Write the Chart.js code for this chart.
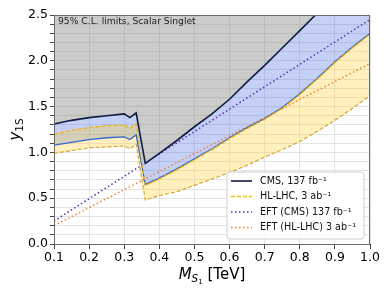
<!DOCTYPE html>
<html>
<head>
<meta charset="utf-8">
<script src="https://cdn.jsdelivr.net/npm/chart.js@4/dist/chart.umd.min.js"></script>
<style>
  body { margin: 0; background: #fff; }
  #wrap { width: 390px; height: 293px; }
</style>
</head>
<body>
<div id="wrap"><canvas id="limitChart"></canvas></div>
<script>
// kütle noktaları (TeV) - tüm bant eğrileri aynı noktaları kullanıyor
const massPts = [0.1, 0.15, 0.2, 0.25, 0.3, 0.316, 0.334, 0.36, 0.4, 0.45, 0.5, 0.55, 0.6, 0.65, 0.7, 0.75, 0.8, 0.85, 0.9, 0.95, 1.0];

// CMS 137 fb^-1 gözlenen limit (üst sınır)
const cmsObs = [1.31, 1.35, 1.38, 1.40, 1.42, 1.38, 1.43, 0.88, 0.99, 1.13, 1.28, 1.42, 1.58, 1.77, 1.95, 2.14, 2.33, 2.52, 2.72, 2.93, 3.15];
// CMS bandının alt çizgisi
const cmsLow = [1.08, 1.11, 1.14, 1.16, 1.17, 1.14, 1.19, 0.65, 0.72, 0.82, 0.93, 1.04, 1.16, 1.27, 1.37, 1.49, 1.64, 1.81, 1.99, 2.15, 2.30];
// HL-LHC 3 ab^-1 bandı
const hlUp = [1.20, 1.24, 1.27, 1.29, 1.30, 1.26, 1.31, 0.64, 0.71, 0.81, 0.92, 1.03, 1.15, 1.26, 1.36, 1.48, 1.63, 1.80, 1.98, 2.14, 2.29];
const hlLow = [0.99, 1.02, 1.05, 1.06, 1.07, 1.04, 1.09, 0.48, 0.53, 0.57, 0.64, 0.71, 0.78, 0.86, 0.95, 1.03, 1.12, 1.23, 1.35, 1.48, 1.62];

// EFT eğrileri
const eftMass = [0.1, 1.0];
const eftCms = [0.25, 2.45];
const eftHl = [0.20, 1.97];

const legendLabels = ['CMS, 137 fb\u207B\u00B9', 'HL-LHC, 3 ab\u207B\u00B9', 'EFT (CMS) 137 fb\u207B\u00B9', 'EFT (HL-LHC) 3 ab\u207B\u00B9'];
const legendIdx = [0, 1, 4, 5];

const FONT = "'DejaVu Sans', sans-serif";

function pts(xs, ys) {
    return xs.map((x, i) => ({ x: x, y: ys[i] }));
}

// çerçeve, eksen başlıkları, not ve lejant
const decorPlugin = {
    id: 'decor',
    afterDraw(chart) {
        const ctx = chart.ctx;
        const a = chart.chartArea;
        ctx.save();

        // çerçeve
        ctx.strokeStyle = '#6b6b6b';
        ctx.lineWidth = 1;
        ctx.strokeRect(a.left + 0.5, a.top + 0.5, a.right - a.left - 1, a.bottom - a.top);

        // not
        ctx.fillStyle = '#222';
        ctx.font = '9.2px ' + FONT;
        ctx.textBaseline = 'alphabetic';
        ctx.textAlign = 'left';
        ctx.fillText('95% C.L. limits, Scalar Singlet', a.left + 4, a.top + 8.5);

        // x başlığı: M_{S_1} [TeV]
        const parts = [
            { t: 'M', f: 'italic 15px ' + FONT, dy: 0 },
            { t: 'S', f: 'italic 10.5px ' + FONT, dy: 3 },
            { t: '1', f: '7px ' + FONT, dy: 5 },
            { t: ' [TeV]', f: '15px ' + FONT, dy: 0 }
        ];
        let total = 0;
        parts.forEach(p => { ctx.font = p.f; p.w = ctx.measureText(p.t).width; total += p.w; });
        let x = (a.left + a.right) / 2 - total / 2;
        ctx.fillStyle = '#000';
        parts.forEach(p => { ctx.font = p.f; ctx.fillText(p.t, x, 279 + p.dy); x += p.w; });

        // y başlığı: y_{1S}
        ctx.save();
        ctx.translate(20, (a.top + a.bottom) / 2);
        ctx.rotate(-Math.PI / 2);
        const yp = [
            { t: 'y', f: 'italic 15px ' + FONT, dy: 0 },
            { t: '1S', f: '10.5px ' + FONT, dy: 3 }
        ];
        total = 0;
        yp.forEach(p => { ctx.font = p.f; p.w = ctx.measureText(p.t).width; total += p.w; });
        x = -total / 2;
        yp.forEach(p => { ctx.font = p.f; ctx.fillText(p.t, x, p.dy); x += p.w; });
        ctx.restore();

        // lejant (grafik alanının içinde, sağ altta)
        const bx = a.right - 143, by = a.bottom - 72, bw = 137, bh = 67;
        ctx.beginPath();
        ctx.roundRect(bx, by, bw, bh, 3);
        ctx.fillStyle = 'rgba(255,255,255,0.85)';
        ctx.fill();
        ctx.strokeStyle = '#d0d0d0';
        ctx.stroke();
        ctx.font = '9.6px ' + FONT;
        ctx.textBaseline = 'middle';
        legendIdx.forEach((di, k) => {
            const ds = chart.data.datasets[di];
            const ly = by + 9 + k * 15.5;
            ctx.beginPath();
            ctx.setLineDash(ds.borderDash || []);
            ctx.strokeStyle = ds.legendColor || ds.borderColor;
            ctx.lineWidth = ds.borderWidth;
            ctx.moveTo(bx + 4, ly);
            ctx.lineTo(bx + 25, ly);
            ctx.stroke();
            ctx.setLineDash([]);
            ctx.fillStyle = '#111';
            ctx.fillText(legendLabels[k], bx + 33, ly);
        });
        ctx.restore();
    }
};

(function () {
    "use strict";
    const ctx = document.getElementById('limitChart').getContext('2d');

    new Chart(ctx, {
        type: 'line',
        data: {
            datasets: [
                {
                    data: pts(massPts, cmsObs),
                    borderColor: '#101c40',
                    borderWidth: 1.6,
                    backgroundColor: 'rgba(125,127,120,0.40)',
                    fill: 'end'
                },
                {
                    data: pts(massPts, hlUp),
                    borderColor: '#f2b400',
                    legendColor: '#f5c400',
                    borderWidth: 1.3,
                    borderDash: [4, 2],
                    fill: false
                },
                {
                    data: pts(massPts, hlLow),
                    borderColor: '#d2a21c',
                    borderWidth: 1.1,
                    borderDash: [4, 2],
                    backgroundColor: 'rgba(255,205,40,0.30)',
                    fill: 1
                },
                {
                    data: pts(massPts, cmsLow),
                    borderColor: '#3566d6',
                    borderWidth: 1.3,
                    backgroundColor: 'rgba(75,110,230,0.32)',
                    fill: 0
                },
                {
                    data: pts(eftMass, eftCms),
                    borderColor: '#5a2db0',
                    borderWidth: 1.5,
                    borderDash: [1.5, 2.5],
                    fill: false
                },
                {
                    data: pts(eftMass, eftHl),
                    borderColor: '#f5822a',
                    borderWidth: 1.5,
                    borderDash: [1.5, 2.5],
                    fill: false
                }
            ]
        },
        options: {
            responsive: true,
            maintainAspectRatio: false,
            animation: false,
            devicePixelRatio: 1,
            layout: { padding: { top: 15, right: 20, left: 0, bottom: 0 } },
            elements: { point: { radius: 0 }, line: { tension: 0 } },
            plugins: {
                legend: { display: false },
                tooltip: { enabled: false },
                filler: { drawTime: 'beforeDatasetsDraw' }
            },
            scales: {
                x: {
                    type: 'linear',
                    min: 0.1,
                    max: 1.0,
                    afterFit: s => { s.height = 49; },
                    border: { display: false },
                    grid: { color: '#e4e4e4', tickColor: '#444', tickLength: 5 },
                    ticks: {
                        stepSize: 0.1,
                        padding: 1,
                        color: '#000',
                        font: { family: FONT, size: 12.5 },
                        maxRotation: 0,
                        callback: v => v.toFixed(1)
                    }
                },
                y: {
                    min: 0,
                    max: 2.5,
                    afterFit: s => { s.width = 54; },
                    border: { display: false },
                    grid: { color: '#e4e4e4', tickColor: '#444', tickLength: 4 },
                    ticks: {
                        stepSize: 0.1,
                        padding: 2,
                        color: '#000',
                        font: { family: FONT, size: 12.5 },
                        autoSkip: false,
                        callback: v => {
                            const r = Math.round(v * 10);
                            return r % 5 === 0 ? (r / 10).toFixed(1) : '';
                        }
                    }
                }
            }
        },
        plugins: [decorPlugin]
    });
})();
</script>
</body>
</html>
